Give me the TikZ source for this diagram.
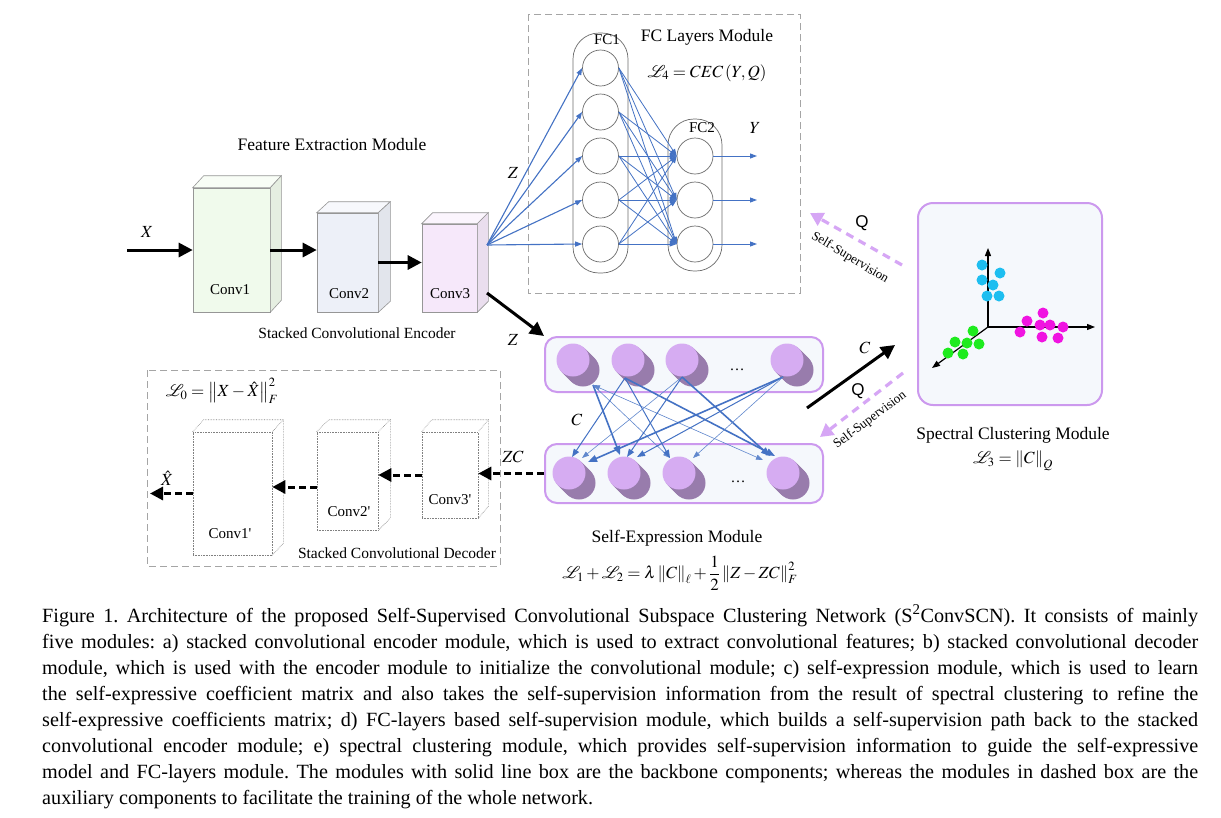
\documentclass[tikz,border=0pt]{standalone}
\usepackage{mathptmx}
\usepackage[no-math]{fontspec}
\setmainfont{Liberation Serif}
\newfontfamily\qfont{Liberation Sans}
\usetikzlibrary{arrows.meta,calc}
\frenchspacing
\definecolor{bl}{RGB}{68,114,196}
\definecolor{pu}{RGB}{204,153,238}
\definecolor{pul}{RGB}{214,172,242}
\definecolor{pud}{RGB}{152,124,172}
\definecolor{pdash}{RGB}{214,166,245}
\definecolor{boxfill}{RGB}{245,248,252}
\definecolor{gedge}{RGB}{150,150,150}
\definecolor{dgray}{RGB}{165,165,165}
\definecolor{cga}{RGB}{240,250,236}
\definecolor{cgb}{RGB}{237,240,248}
\definecolor{cgc}{RGB}{246,232,250}
\definecolor{cyandot}{RGB}{30,190,240}
\definecolor{magdot}{RGB}{240,20,225}
\definecolor{grndot}{RGB}{30,235,30}
\newcommand\prm{\textquotesingle}
\newcommand\drawcube[4]{%
  \draw[#4, fill=#3!45!white] (#1.north west) -- ++(#2) -- ($(#1.north east)+(#2)$) -- (#1.north east) -- cycle;
  \draw[#4, fill=#3!90!gray] (#1.north east) -- ++(#2) -- ($(#1.south east)+(#2)$) -- (#1.south east) -- cycle;}
\newcommand\drawdcube[2]{%
  \draw[dcube] (#1.north west) -- ++(#2) -- ($(#1.north east)+(#2)$) -- (#1.north east);
  \draw[dcube] ($(#1.north east)+(#2)$) -- ($(#1.south east)+(#2)$) -- (#1.south east);}
\begin{document}
\begin{tikzpicture}[x=1pt,y=-1pt,
  ttl/.style={font=\fontsize{17.5}{20}\selectfont, inner sep=0},
  sub/.style={font=\fontsize{15.5}{18}\selectfont, inner sep=0},
  cvl/.style={font=\fontsize{15}{18}\selectfont, inner sep=0},
  mlb/.style={font=\fontsize{17}{20}\selectfont, inner sep=0},
  sml/.style={font=\fontsize{13}{15}\selectfont, inner sep=0},
  qlb/.style={font=\qfont\fontsize{17}{20}\selectfont, inner sep=0},
  captxt/.style={font=\fontsize{20.2}{26}\selectfont, inner sep=0, anchor=base west},
  cube/.style={draw=gedge, line width=0.6, inner sep=0},
  dcube/.style={draw=gray, densely dotted, line width=0.6, inner sep=0},
  bigarrow/.style={line width=3, -{Triangle[length=14pt,width=14pt]}},
  dasharrow/.style={line width=3, dash pattern=on 7pt off 4pt, -{Triangle[length=13pt,width=13pt]}},
  qarrow/.style={draw=pdash, line width=3.2, dash pattern=on 8pt off 6pt, -{Triangle[length=13pt,width=14pt,fill=pdash]}},
  auxbox/.style={draw=dgray, line width=1, dash pattern=on 7pt off 4pt},
  mainbox/.style={draw=pu, fill=boxfill, line width=2, rounded corners=12, inner sep=0},
  fccol/.style={draw=gray!85!black, line width=0.7, rounded corners=26, inner sep=0},
  fcc/.style={circle, draw=gray!85!black, line width=0.7, fill=white, minimum size=36, inner sep=0},
  blarrow/.style={draw=bl, line width=#1, -{Triangle[length=7pt,width=5pt]}},
  blarrow/.default=0.8,
  secirc/.style={circle, fill=pul, minimum size=33, inner sep=0},
  sethick/.style={draw=bl, line width=1.6, -{Triangle[length=9pt,width=7pt]}},
  semed/.style={draw=bl, line width=1.0, -{Triangle[length=8pt,width=6pt]}},
  sethin/.style={draw=bl!85!white, line width=0.6, -{Triangle[length=7pt,width=5pt]}},
  axis/.style={line width=1.2, -{Triangle[length=8pt,width=6pt]}}
]
\fill[white] (0,0) rectangle (1221,817);
\useasboundingbox (0,0) rectangle (1221,817);

% ---------------- Encoder ----------------
\node[ttl] (fem) at (332,145) {Feature Extraction Module};
\node[cube, fill=cga, minimum width=77, minimum height=124] (c1) at (231.5,250) {};
\drawcube{c1}{11,-12}{cga}{cube}
\node[cube, fill=cgb, minimum width=61, minimum height=99] (c2) at (347.5,262.5) {};
\drawcube{c2}{12,-11}{cgb}{cube}
\node[cube, fill=cgc, minimum width=55, minimum height=88] (c3) at (449.5,268) {};
\drawcube{c3}{11,-11}{cgc}{cube}
\node[cvl] (l1) at (230,290) {Conv1};
\node[cvl] (l2) at (349,294) {Conv2};
\node[cvl] (l3) at (450,294) {Conv3};
\node[sub] (sce) at (357,333) {Stacked Convolutional Encoder};
\node[mlb] (xl) at (147,232) {$X$};
\coordinate (xin) at (127,250);
\draw[bigarrow] (xin) -- (c1.west);
\draw[bigarrow] (c1.east) -- (c1.east -| c2.west);
\draw[bigarrow] (c2.east) -- (c2.east -| c3.west);

% ---------------- FC layers ----------------
\draw[auxbox] (528,14) rectangle (800,293);
\node[ttl] (fcm) at (707,37) {FC Layers Module};
\node[mlb] (l4) at (707,73) {$\mathcal{L}_4 = CEC\left(Y,Q\right)$};
\node[fccol, minimum width=55, minimum height=240] (fc1) at (600.5,153) {};
\node[fccol, minimum width=54, minimum height=152] (fc2) at (695,195) {};
\node[cvl] (fc1l) at (607,40) {FC1};
\node[cvl] (fc2l) at (702,128) {FC2};
\foreach \i/\y in {1/68,2/112,3/156,4/200,5/244} \node[fcc] (a\i) at (600.5,\y) {};
\foreach \i/\y in {1/156,2/200,3/244} \node[fcc] (b\i) at (695,\y) {};
\coordinate (zout) at (487,245);
\foreach \i in {1,...,5} \draw[blarrow=1.1] (zout) -- (a\i.west);
\foreach \i in {1,...,5} \foreach \j in {1,2,3} \draw[blarrow=0.8] (a\i.east) -- (b\j.west);
\foreach \j/\y in {1/156,2/200,3/244} {
  \coordinate (o\j) at (757,\y);
  \draw[blarrow=0.9] (b\j.east) -- (o\j);
}
\node[mlb] (yl) at (755,128) {$Y$};
\node[mlb] (zl1) at (513,173) {$Z$};

% ---------------- Self-expression ----------------
\node[mainbox, minimum width=278, minimum height=55] (se1) at (684,364.5) {};
\node[mainbox, minimum width=278, minimum height=59] (se2) at (684,473.5) {};
\foreach \n/\x/\y in {t1/573/360,t2/628/360,t3/682/360,t4/787/360,u1/569/473,u2/624/473,u3/679/473,u4/783/473} {
  \foreach \k in {1,...,10} \fill[pud] (\x+\k,\y+\k) circle (16.5);
  \node[secirc] (\n) at (\x,\y) {};
}
\node[cvl] (dt) at (737,370) {\ldots};
\node[cvl] (db) at (738,482) {\ldots};
\coordinate (s1) at ($(t1)+(20,25)$);
\coordinate (s2) at ($(t2)+(-3,18)$);
\coordinate (s3) at ($(t3)+(0,17)$);
\coordinate (s4) at ($(t4)+(-4,17)$);
\coordinate (e1a) at ($(u1)+(3,-16)$);
\coordinate (e1b) at ($(u1)+(13,-15)$);
\coordinate (e1c) at ($(u1)+(19,-11)$);
\coordinate (e2a) at ($(u2)+(-4,-18)$);
\coordinate (e2b) at ($(u2)+(3,-16)$);
\coordinate (e2c) at ($(u2)+(13,-16)$);
\coordinate (e3a) at ($(u3)+(-9,-15)$);
\coordinate (e3b) at ($(u3)+(14,-15)$);
\coordinate (e4a) at ($(u4)+(-20,-13)$);
\coordinate (e4b) at ($(u4)+(-13,-17)$);
\coordinate (e4c) at ($(u4)+(-8,-17)$);
\draw[sethick] (s1) -- (e2a);
\draw[sethin] (s1) -- (e3a);
\draw[sethin, {Triangle[length=7pt,width=5pt]}-{Triangle[length=7pt,width=5pt]}] (s1) -- (e4a);
\draw[semed] (s2) -- (e1a);
\draw[semed] (s2) -- (e3a);
\draw[sethick] (s2) -- (e4c);
\draw[sethin] (s3) -- (e1b);
\draw[semed] (s3) -- (e2b);
\draw[sethick] (s3) -- (e4b);
\draw[sethick] (s4) -- (e1c);
\draw[semed] (s4) -- (e2c);
\draw[sethin] (s4) -- (e3b);
\node[mlb] (cl) at (577,420) {$C$};
\node[ttl] (sem) at (677,538) {Self-Expression Module};
\node[mlb] (l12) at (680,573) {$\mathcal{L}_1+\mathcal{L}_2=\lambda\left\|C\right\|_\ell+{\displaystyle\frac{1}{2}}\left\|Z-ZC\right\|_F^2$};
\coordinate (c3b) at (487,293);
\draw[bigarrow] (c3b) -- (se1.north west);
\node[mlb] (zl2) at (513,340) {$Z$};

% ---------------- Spectral clustering ----------------
\node[mainbox, rounded corners=15, minimum width=184, minimum height=202] (sc) at (1010,304) {};
\coordinate (org) at (988,327);
\coordinate (axu) at (988,248);
\coordinate (axr) at (1095,327);
\coordinate (axd) at (932,368);
\draw[axis] (org) -- (axu);
\draw[axis] (org) -- (axr);
\draw[axis] (org) -- (axd);
\foreach \x/\y in {982/265,1000/273,982/280,993/285,987/296,999/296} \fill[cyandot] (\x,\y) circle (5.5);
\foreach \x/\y in {1027/321,1020/332,1043/313,1040/325,1050/325,1063/327,1042/337,1058/338} \fill[magdot] (\x,\y) circle (5.5);
\foreach \x/\y in {973/331,955/342,967/343,979/344,948/353,963/354} \fill[grndot] (\x,\y) circle (5.5);
\node[ttl] (scm) at (1013,435) {Spectral Clustering Module};
\node[mlb] (l3f) at (1013,461) {$\mathcal{L}_3=\left\|C\right\|_Q$};

% ---------------- Connections to spectral ----------------
\coordinate (ca) at (807,408);
\coordinate (cb) at (895,345);
\draw[bigarrow] (ca) -- (cb);
\node[mlb] (cl2) at (865,348) {$C$};
\coordinate (qa1) at (902,265);
\coordinate (qb1) at (810,213);
\draw[qarrow] (qa1) -- (qb1);
\node[qlb] (q1) at (862,223) {Q};
\node[sml, rotate=-31] (ss1) at (850,258) {Self-Supervision};
\coordinate (qa2) at (903,373);
\coordinate (qb2) at (820,437);
\draw[qarrow] (qa2) -- (qb2);
\node[qlb] (q2) at (858,391) {Q};
\node[sml, rotate=37] (ss2) at (870,420) {Self-Supervision};

% ---------------- Decoder ----------------
\draw[auxbox] (147,370) rectangle (500,566);
\node[mlb] (l0) at (222,391) {$\mathcal{L}_0=\left\|X-\hat{X}\right\|_F^2$};
\node[dcube, minimum width=79, minimum height=123] (d1) at (232.5,493.5) {};
\drawdcube{d1}{11,-12}
\node[dcube, minimum width=61, minimum height=98] (d2) at (347.5,481) {};
\drawdcube{d2}{12,-12}
\node[dcube, minimum width=56, minimum height=86] (d3) at (450,475) {};
\drawdcube{d3}{10,-12}
\node[cvl] (m1) at (230,534) {Conv1\prm};
\node[cvl] (m2) at (349,512) {Conv2\prm};
\node[cvl] (m3) at (450,500) {Conv3\prm};
\node[sub] (scd) at (397,553) {Stacked Convolutional Decoder};
\draw[dasharrow] (se2.west) -- (se2.west -| d3.east);
\node[mlb] (zcl) at (513,457) {$ZC$};
\draw[dasharrow] (d3.west) -- (d3.west -| d2.east);
\draw[dasharrow] ([yshift=-6pt]d2.west) -- ([yshift=-6pt]d2.west -| d1.east);
\coordinate (xh) at (150,493.5);
\draw[dasharrow] (d1.west) -- (xh);
\node[mlb] (xhl) at (167,478) {$\hat{X}$};

% ---------------- Caption ----------------
\node[captxt] (cap1) at (42,622) {\makebox[1156pt][s]{Figure 1. Architecture of the proposed Self-Supervised Convolutional Subspace Clustering Network (S\textsuperscript{2}ConvSCN). It consists of mainly}};
\node[captxt] (cap2) at (42,648) {\makebox[1156pt][s]{five modules: a) stacked convolutional encoder module, which is used to extract convolutional features; b) stacked convolutional decoder}};
\node[captxt] (cap3) at (42,674) {\makebox[1156pt][s]{module, which is used with the encoder module to initialize the convolutional module; c) self-expression module, which is used to learn}};
\node[captxt] (cap4) at (42,700) {\makebox[1156pt][s]{the self-expressive coefficient matrix and also takes the self-supervision information from the result of spectral clustering to refine the}};
\node[captxt] (cap5) at (42,726) {\makebox[1156pt][s]{self-expressive coefficients matrix; d) FC-layers based self-supervision module, which builds a self-supervision path back to the stacked}};
\node[captxt] (cap6) at (42,752) {\makebox[1156pt][s]{convolutional encoder module; e) spectral clustering module, which provides self-supervision information to guide the self-expressive}};
\node[captxt] (cap7) at (42,778) {\makebox[1156pt][s]{model and FC-layers module. The modules with solid line box are the backbone components; whereas the modules in dashed box are the}};
\node[captxt] (cap8) at (42,804) {auxiliary components to facilitate the training of the whole network.};
\end{tikzpicture}
\end{document}
